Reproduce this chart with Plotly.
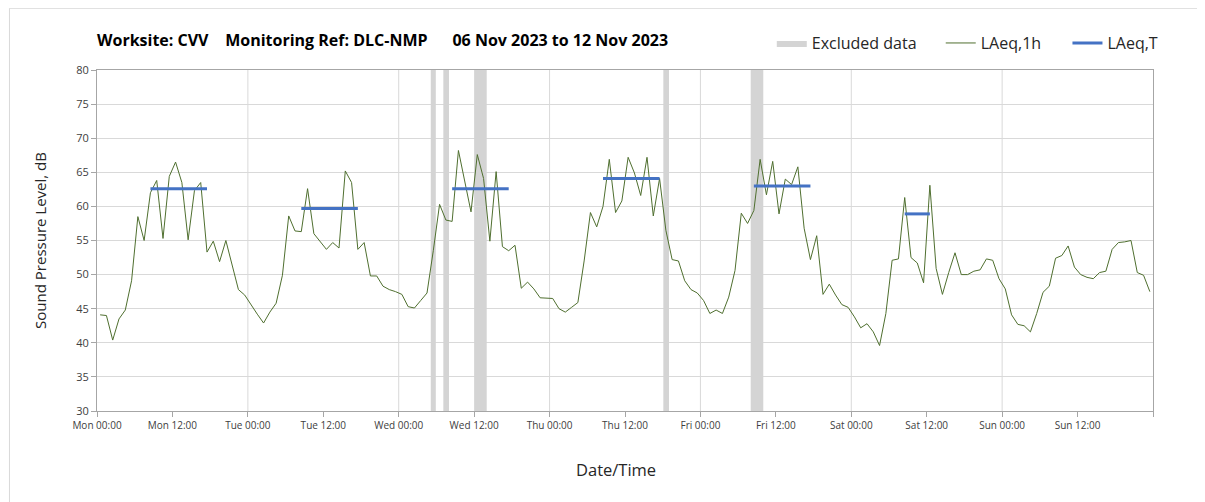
import plotly.graph_objects as go

# ---- data ----
day_names = ["Mon", "Tue", "Wed", "Thu", "Fri", "Sat", "Sun"]
tick_hours = list(range(0, 169, 12))
tick_labels = [f"{day_names[h // 24]} {h % 24:02d}:00" if h < 168 else "" for h in tick_hours]

hours = list(range(168))
laeq_1h = [
    44.1, 44.0, 40.4, 43.5, 44.8, 49.1, 58.5, 55.0, 62.0, 63.8, 55.3, 64.4,
    66.5, 63.5, 55.1, 62.3, 63.5, 53.3, 54.9, 51.9, 55.0, 51.4, 47.8, 47.0,
    45.5, 44.2, 42.9, 44.5, 45.8, 49.9, 58.6, 56.4, 56.3, 62.6, 56.0, 54.9,
    53.7, 54.7, 53.9, 65.2, 63.5, 53.7, 54.7, 49.8, 49.8, 48.3, 47.8, 47.5,
    47.1, 45.3, 45.1, 46.2, 47.3, 53.5, 60.3, 58.0, 57.8, 68.2, 63.6, 59.2,
    67.6, 64.1, 54.9, 65.1, 54.1, 53.5, 54.3, 48.0, 48.9, 47.9, 46.6, 46.5,
    46.5, 45.0, 44.5, 45.2, 45.9, 52.0, 59.1, 57.0, 60.0, 66.9, 59.1, 60.8,
    67.2, 64.9, 61.6, 67.2, 58.6, 64.1, 56.5, 52.2, 52.0, 49.1, 47.8, 47.3,
    46.2, 44.3, 44.8, 44.3, 46.7, 50.6, 59.0, 57.5, 59.4, 66.9, 61.7, 66.6,
    58.9, 64.0, 63.2, 65.8, 56.8, 52.2, 55.7, 47.1, 48.6, 47.0, 45.6, 45.2,
    43.8, 42.2, 42.8, 41.6, 39.6, 44.3, 52.1, 52.3, 61.3, 52.5, 51.7, 48.8,
    63.1, 50.9, 47.1, 50.3, 53.2, 50.0, 50.0, 50.5, 50.7, 52.3, 52.1, 49.4,
    47.9, 44.1, 42.7, 42.5, 41.6, 44.3, 47.4, 48.3, 52.4, 52.8, 54.2, 51.1,
    50.0, 49.6, 49.4, 50.3, 50.5, 53.7, 54.7, 54.8, 55.0, 50.3, 49.9, 47.5,
]

# LAeq,T periods: first hour, last hour, level
laeq_t_start = [8, 32, 56, 80, 104, 128]
laeq_t_end = [17, 41, 65, 89, 113, 132]
laeq_t_value = [62.6, 59.7, 62.6, 64.1, 63.0, 58.9]

# Excluded periods (hours from Mon 00:00)
excl_start = [53.1, 55.1, 60.0, 90.1, 104.0]
excl_end = [53.9, 56.0, 62.0, 91.0, 106.0]

Y_MIN, Y_MAX = 30, 80

# ---- build ----
x_1h = [h + 0.5 for h in hours]

tx, ty = [], []
for s, e, v in zip(laeq_t_start, laeq_t_end, laeq_t_value):
    tx += [s + 0.5, e + 0.5, None]
    ty += [v, v, None]

ex, ey = [], []
for s, e in zip(excl_start, excl_end):
    ex += [s, e, e, s, s, None]
    ey += [Y_MIN, Y_MIN, Y_MAX, Y_MAX, Y_MIN, None]

fig = go.Figure()
fig.add_trace(go.Scatter(
    x=ex, y=ey, mode="lines", fill="toself", fillcolor="#d4d4d4",
    line=dict(width=0, color="#d4d4d4"),
    name="Excluded data", hoverinfo="skip", legend="legend",
))
fig.add_trace(go.Scatter(
    x=x_1h, y=laeq_1h, mode="lines", name="LAeq,1h",
    line=dict(color="#4f6f2f", width=1), legend="legend2",
))
fig.add_trace(go.Scatter(
    x=tx, y=ty, mode="lines", name="LAeq,T",
    line=dict(color="#4472c4", width=3), connectgaps=False, legend="legend3",
))

# vertical day gridlines
for h in range(24, 168, 24):
    fig.add_shape(type="line", x0=h, x1=h, y0=Y_MIN, y1=Y_MAX, xref="x", yref="y",
                  line=dict(color="#d9d9d9", width=1), layer="below")

# outer chart border (left & top)
fig.add_shape(type="line", xref="paper", yref="paper", x0=-0.0829, x1=-0.0829, y0=-0.27, y1=1.181,
              line=dict(color="#d9d9d9", width=1))
fig.add_shape(type="line", xref="paper", yref="paper", x0=-0.0829, x1=1.05, y0=1.181, y1=1.181,
              line=dict(color="#d9d9d9", width=1))

fig.add_annotation(
    text="Worksite: CVV&nbsp;&nbsp;&nbsp;&nbsp;Monitoring Ref: DLC-NMP&nbsp;&nbsp;&nbsp;&nbsp;&nbsp;&nbsp;06 Nov 2023 to 12 Nov 2023",
    xref="paper", yref="paper", x=-0.002, y=1.088, xanchor="left", yanchor="middle",
    showarrow=False, font=dict(size=16, color="#000000", family="Open Sans", weight="bold"),
)
fig.add_annotation(
    text="Date/Time", xref="paper", yref="paper", x=0.4915, y=-0.173,
    xanchor="center", yanchor="middle", showarrow=False,
    font=dict(size=16.5, color="#262626"),
)

leg_common = dict(orientation="h", y=1.079, yanchor="middle", xanchor="left",
                  font=dict(size=16, color="#262626"), bgcolor="rgba(0,0,0,0)",
                  borderwidth=0, itemwidth=30)

fig.update_layout(
    width=1197, height=494,
    margin=dict(l=89, r=52, t=62, b=91),
    paper_bgcolor="white", plot_bgcolor="white",
    font=dict(family="Open Sans", color="#404040"),
    showlegend=True,
    legend=dict(x=0.639, **leg_common),
    legend2=dict(x=0.799, **leg_common),
    legend3=dict(x=0.919, **leg_common),
    xaxis=dict(
        range=[0, 168], tickmode="array", tickvals=tick_hours, ticktext=tick_labels,
        tickfont=dict(size=10, color="#404040"), ticks="outside", ticklen=5, tickcolor="#a6a6a6",
        showgrid=False, showline=True, linecolor="#a6a6a6", mirror=True, zeroline=False,
    ),
    yaxis=dict(
        range=[Y_MIN, Y_MAX], dtick=5, tick0=30,
        tickfont=dict(size=11, color="#404040"), ticks="outside", ticklen=5, tickcolor="#a6a6a6",
        showgrid=True, gridcolor="#d9d9d9", showline=True, linecolor="#a6a6a6", mirror=True,
        zeroline=False,
        title=dict(text="Sound Pressure Level, dB", font=dict(size=15, color="#262626"), standoff=25),
    ),
)

fig.write_html("out.html")
